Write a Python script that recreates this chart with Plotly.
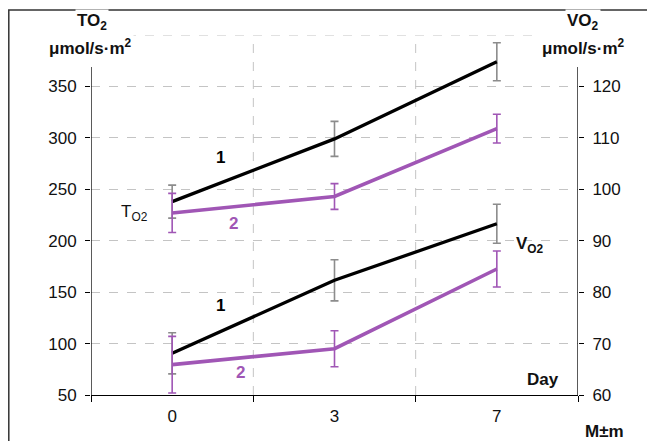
import plotly.graph_objects as go

days = ["0", "3", "7"]
xpos = [0, 1, 2]
to2_1 = [238, 299, 374]
to2_1_err = [16, 17, 18.5]
to2_2 = [227, 243, 309]
to2_2_err = [19, 12.5, 14]
vo2_1 = [68.1, 82.3, 93.3]
vo2_1_err = [4, 4, 3.8]
vo2_2 = [65.9, 69.0, 84.5]
vo2_2_err = [5.5, 3.5, 3.5]
left_ticks = [50, 100, 150, 200, 250, 300, 350]
right_ticks = [60, 70, 80, 90, 100, 110, 120]

BLACK = "#000000"
GRAY = "#8C8C8C"
PURPLE = "#A056B5"
FONT = "Liberation Sans, Arial, sans-serif"
FS = 17

fig = go.Figure()

def add(y, err, color, ecolor, axis, w):
    fig.add_trace(go.Scatter(
        x=xpos, y=y, mode="lines", yaxis=axis,
        line=dict(color=color, width=w),
        error_y=dict(type="data", array=err, color=ecolor, thickness=1.6, width=4),
        showlegend=False, hoverinfo="skip"))

add(to2_1, to2_1_err, BLACK, GRAY, "y", 3.3)
add(to2_2, to2_2_err, PURPLE, PURPLE, "y", 3.6)
add(vo2_1, vo2_1_err, BLACK, GRAY, "y2", 3.3)
add(vo2_2, vo2_2_err, PURPLE, PURPLE, "y2", 3.6)

grid = dict(color="#C4C4C4", width=1, dash="dash")
shapes = []
# vertical grid lines between categories
for xv in [0.5, 1.5]:
    shapes.append(dict(type="line", xref="x", yref="y", x0=xv, x1=xv, y0=50, y1=400,
                       line=grid, layer="below"))
# top grid line
shapes.append(dict(type="line", xref="x", yref="y", x0=-0.5, x1=2.5, y0=400, y1=400,
                   line=grid, layer="below"))
# axis lines (shortened at top)
for xv in [-0.5, 2.5]:
    shapes.append(dict(type="line", xref="x", yref="y", x0=xv, x1=xv, y0=50, y1=369,
                       line=dict(color="#000000", width=1.3)))
# outer frame (figure sits 8px into the page; plot area x 83..570, y 27..387 in figure px)
shapes.append(dict(type="rect", xref="paper", yref="paper",
                   x0=(0.8 - 83) / 487, x1=(700 - 83) / 487,
                   y0=(387 - 460) / 360, y1=(387 - 2) / 360,
                   line=dict(color="#333333", width=1.5)))

ann = []
def txt(x, y, t, color="#111111", size=FS, xref="x", yref="y", bg=None, xanchor="center"):
    d = dict(x=x, y=y, xref=xref, yref=yref, text=t, showarrow=False,
             font=dict(family=FONT, size=size, color=color), xanchor=xanchor, yanchor="middle")
    if bg:
        d["bgcolor"] = bg
    ann.append(d)

txt(0.295, 281, "<b>1</b>", BLACK)
txt(0.375, 217, "<b>2</b>", PURPLE)
txt(-0.229, 227, "T<sub>O2</sub>", "#111111")
txt(0.295, 137, "<b>1</b>", BLACK)
txt(0.418, 72, "<b>2</b>", PURPLE)
txt(2.204, 196, "<b>V<sub>O2</sub></b>", "#111111")
txt(2.284, 65, "<b>Day</b>", "#111111")
# paper coords (window px): px -> (px-91)/487 ; py -> (395-py)/360
txt((604 - 91) / 487, (395 - 431) / 360, "<b>M±m</b>", "#111111", xref="paper", yref="paper")
txt((92 - 91) / 487, (395 - 22) / 360, "<b>TO<sub>2</sub></b>", "#111111", xref="paper", yref="paper", bg="white")
txt((90 - 91) / 487, (395 - 47) / 360, "<b>μmol/s·m<sup>2</sup></b>", "#111111", xref="paper", yref="paper", bg="white")
txt((583 - 91) / 487, (395 - 22) / 360, "<b>VO<sub>2</sub></b>", "#111111", xref="paper", yref="paper", bg="white")
txt((583 - 91) / 487, (395 - 47) / 360, "<b>μmol/s·m<sup>2</sup></b>", "#111111", xref="paper", yref="paper", bg="white")

fig.update_layout(
    width=647, height=433,
    margin=dict(l=83, r=77, t=27, b=46),
    paper_bgcolor="white", plot_bgcolor="white",
    font=dict(family=FONT, size=FS, color="#111111"),
    shapes=shapes, annotations=ann,
    xaxis=dict(range=[-0.5, 2.5], tickmode="array", tickvals=xpos, ticktext=days,
               ticks="", showgrid=False, zeroline=False,
               showline=True, linecolor="#000000", linewidth=1.3,
               ticklabelstandoff=5,
               minor=dict(tickmode="array", tickvals=[-0.5, 0.5, 1.5, 2.5], ticks="outside",
                          ticklen=6, tickcolor="#000000", tickwidth=1.3, showgrid=False),
               tickfont=dict(size=FS)),
    yaxis=dict(range=[50, 400], tickmode="array", tickvals=left_ticks,
               showgrid=True, gridcolor="#C4C4C4", griddash="dash", gridwidth=1,
               zeroline=False, showline=False, ticks="outside", ticklen=5,
               tickcolor="#000000", tickwidth=1.3, ticklabelstandoff=5,
               tickfont=dict(size=FS)),
    yaxis2=dict(range=[60, 130], tickmode="array", tickvals=right_ticks,
                overlaying="y", side="right", showgrid=False, zeroline=False,
                showline=False, ticks="outside", ticklen=5, tickcolor="#000000",
                tickwidth=1.3, ticklabelstandoff=5, tickfont=dict(size=FS)),
)

fig.write_html("out.html")
